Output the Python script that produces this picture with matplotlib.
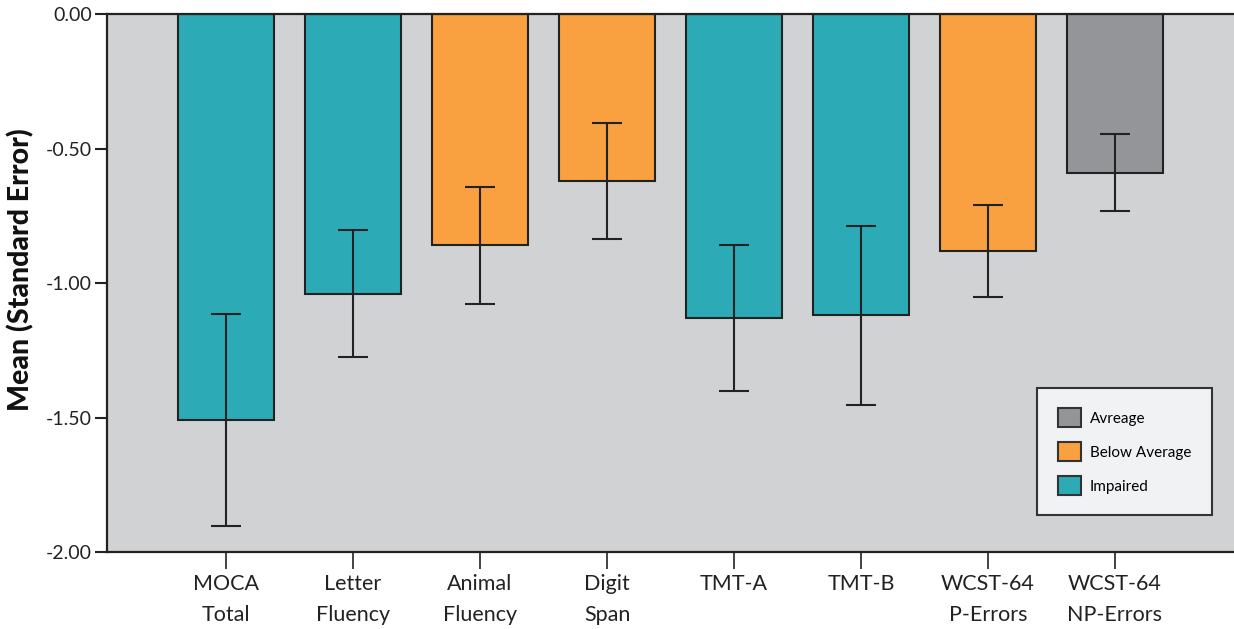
import numpy as np
import matplotlib.pyplot as plt
from matplotlib.patches import Patch

plt.rcParams["font.family"] = ["Lato", "DejaVu Sans"]

CATEGORIES = ["MOCA\nTotal", "Letter\nFluency", "Animal\nFluency", "Digit\nSpan",
              "TMT-A", "TMT-B", "WCST-64\nP-Errors", "WCST-64\nNP-Errors"]
MEANS = [-1.51, -1.04, -0.86, -0.62, -1.13, -1.12, -0.88, -0.59]
ERRORS = [0.395, 0.236, 0.218, 0.216, 0.27, 0.333, 0.171, 0.143]
GROUPS = ["Impaired", "Impaired", "Below Average", "Below Average",
          "Impaired", "Impaired", "Below Average", "Avreage"]

COLORS = {"Avreage": "#949599", "Below Average": "#f9a040", "Impaired": "#2cabb7"}
EDGE = "#222222"

fig = plt.figure(figsize=(12.34, 6.29), dpi=100)
ax = fig.add_axes([0.0867, 0.1224, 0.9133, 0.8553])
ax.set_facecolor("#d1d2d4")

x = np.arange(len(CATEGORIES))
ax.bar(x, MEANS, width=0.756, color=[COLORS[g] for g in GROUPS],
       edgecolor=EDGE, linewidth=1.5, zorder=2)
ax.errorbar(x, MEANS, yerr=ERRORS, fmt="none", ecolor=EDGE,
            elinewidth=1.5, capsize=10.5, capthick=1.5, zorder=3)

ax.set_xlim(-0.937, 7.937)
ax.set_ylim(-2.0, 0.0)
ax.set_yticks([0, -0.5, -1.0, -1.5, -2.0])
ax.set_yticklabels(["0.00", "-0.50", "-1.00", "-1.50", "-2.00"])
ax.set_xticks(x)
ax.set_xticklabels(CATEGORIES, fontsize=15.5, color="#222222", linespacing=1.65)
ax.tick_params(axis="y", labelsize=14, length=9, width=1.5, color=EDGE,
               labelcolor="#222222", pad=2)
ax.tick_params(axis="x", length=12, width=1.2, color=EDGE, pad=4)
ax.set_ylabel("Mean (Standard Error)", fontsize=20.5, fontweight="black",
              color="#111111")
ax.yaxis.set_label_coords(-0.064, 0.524)

for side in ["left", "bottom", "top"]:
    ax.spines[side].set_linewidth(1.6)
    ax.spines[side].set_color(EDGE)
ax.spines["right"].set_visible(False)

handles = [Patch(facecolor=COLORS[g], edgecolor="#333333", linewidth=1.5, label=g)
           for g in ["Avreage", "Below Average", "Impaired"]]
leg = ax.legend(handles=handles, loc="lower right", bbox_to_anchor=(0.9805, 0.068),
                fontsize=11, frameon=True, fancybox=False, facecolor="#f1f2f4",
                edgecolor="#333333", borderpad=1.35, handlelength=1.5,
                handleheight=1.5, labelspacing=1.0, handletextpad=0.6,
                borderaxespad=0)
leg.get_frame().set_linewidth(1.5)
leg.get_frame().set_alpha(1)

fig.savefig("out.png", dpi=100)
